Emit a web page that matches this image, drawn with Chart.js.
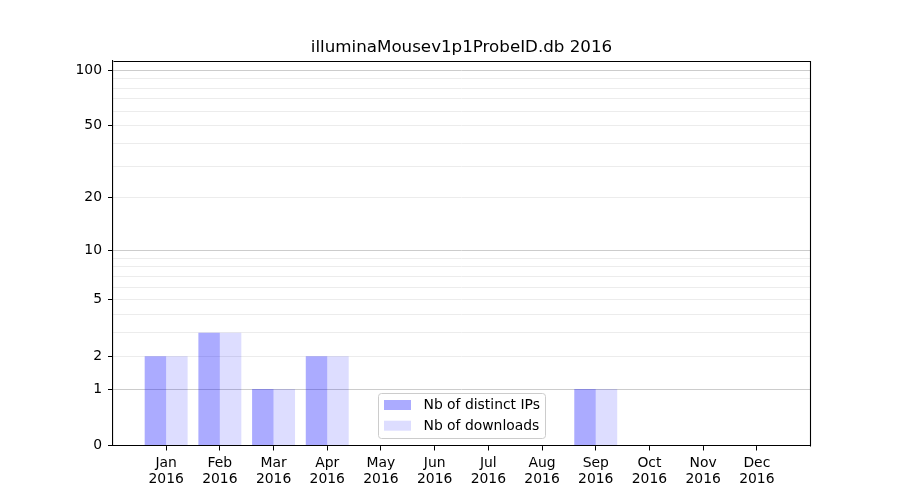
<!DOCTYPE html>
<html>
<head>
<meta charset="utf-8">
<title>illuminaMousev1p1ProbeID.db 2016</title>
<script src="https://cdn.jsdelivr.net/npm/chart.js@4.4.1/dist/chart.umd.min.js"></script>
<style>
  html, body { margin: 0; padding: 0; background: #fff; }
  #wrap { width: 900px; height: 500px; }
</style>
</head>
<body>
<div id="wrap"><canvas id="downloadsChart"></canvas></div>
<script>
// data
const chartTitle = 'illuminaMousev1p1ProbeID.db 2016';
const monthLabels = ['Jan', 'Feb', 'Mar', 'Apr', 'May', 'Jun',
    'Jul', 'Aug', 'Sep', 'Oct', 'Nov', 'Dec'];
const yearLabel = '2016';
const distinctIPs = [2, 3, 1, 2, 0, 0, 0, 0, 1, 0, 0, 0];
const downloads = [2, 3, 1, 2, 0, 0, 0, 0, 1, 0, 0, 0];

const yLabelledTicks = [0, 1, 2, 5, 10, 20, 50, 100];
const yMinorTicks = [3, 4, 6, 7, 8, 9, 30, 40, 60, 70, 80, 90];
const yMajorGrid = [1, 10, 100];

const FONT = '"DejaVu Sans", "Liberation Sans", sans-serif';

// y axis drawn as log10(1 + v), like the symlog-ish axis in the picture
class Log1pScale extends Chart.LinearScale {
    static id = 'log1p';
    static defaults = Chart.LinearScale.defaults;

    buildTicks() {
        return [...yLabelledTicks, ...yMinorTicks]
            .sort((a, b) => a - b)
            .map(v => ({ value: v }));
    }
    getPixelForValue(value) {
        const a = Math.log10(1 + this.min);
        const b = Math.log10(1 + this.max);
        return this.getPixelForDecimal((Math.log10(1 + value) - a) / (b - a));
    }
    getValueForPixel(pixel) {
        const a = Math.log10(1 + this.min);
        const b = Math.log10(1 + this.max);
        return Math.pow(10, a + this.getDecimalForPixel(pixel) * (b - a)) - 1;
    }
}
Chart.register(Log1pScale);

// top and right spines
const frame = {
    id: 'frame',
    afterDraw(chart) {
        const { ctx, chartArea: a } = chart;
        ctx.save();
        ctx.strokeStyle = '#000';
        ctx.lineWidth = 1.1;
        ctx.beginPath();
        ctx.moveTo(Math.round(a.left) + 0.5, Math.round(a.top) + 0.5);
        ctx.lineTo(Math.round(a.right) + 0.5, Math.round(a.top) + 0.5);
        ctx.lineTo(Math.round(a.right) + 0.5, Math.round(a.bottom) + 0.5);
        ctx.stroke();
        ctx.restore();
    }
};

// legend box inside the plot, lower centre
const boxLegend = {
    id: 'boxLegend',
    afterDraw(chart) {
        const { ctx, chartArea: a } = chart;
        const sets = chart.data.datasets;
        ctx.save();
        ctx.font = '13.9px ' + FONT;
        const textW = Math.max(...sets.map(d => ctx.measureText(d.label).width));
        const pad = 6, sw = 27, gap = 12, rowH = 20.7;
        const w = Math.round(pad + sw + gap + textW + pad);
        const h = 45;
        const x = Math.round((a.left + a.right) / 2 - w / 2) + 0.5;
        const y = Math.round(a.bottom - 8 - h) + 0.5;

        ctx.beginPath();
        ctx.roundRect(x, y, w, h, 3);
        ctx.fillStyle = 'rgba(255,255,255,0.8)';
        ctx.fill();
        ctx.strokeStyle = '#cccccc';
        ctx.lineWidth = 1;
        ctx.stroke();

        sets.forEach((d, i) => {
            const cy = y + 11.5 + i * rowH;
            ctx.fillStyle = d.backgroundColor;
            ctx.fillRect(x + pad - 0.5, cy - 5, sw, 10);
            ctx.fillStyle = '#000';
            ctx.textBaseline = 'middle';
            ctx.textAlign = 'left';
            ctx.fillText(d.label, x + pad + sw + gap, cy + 0.5);
        });
        ctx.restore();
    }
};

const toPoints = arr => arr.map((v, i) => ({ x: i, y: v }));

new Chart(document.getElementById('downloadsChart'), {
    type: 'bar',
    data: {
        datasets: [
            {
                label: 'Nb of distinct IPs',
                data: toPoints(distinctIPs),
                backgroundColor: 'rgba(0, 0, 255, 0.33)',
                borderWidth: 0
            },
            {
                label: 'Nb of downloads',
                data: toPoints(downloads),
                backgroundColor: 'rgba(0, 0, 255, 0.133)',
                borderWidth: 0
            }
        ]
    },
    options: {
        responsive: true,
        maintainAspectRatio: false,
        animation: false,
        layout: { padding: { left: 0, right: 90, top: 0, bottom: 0 } },
        datasets: {
            bar: { categoryPercentage: 0.8, barPercentage: 1.0 }
        },
        plugins: {
            legend: { display: false },
            tooltip: { enabled: false },
            title: {
                display: true,
                text: chartTitle,
                fullSize: false,
                color: '#000',
                font: { family: FONT, size: 16.7, weight: 'normal' },
                padding: { top: 38, bottom: 2.5 }
            }
        },
        scales: {
            x: {
                type: 'linear',
                offset: false,
                min: -0.99,
                max: 11.99,
                afterBuildTicks: scale => {
                    scale.ticks = monthLabels.map((_, i) => ({ value: i }));
                },
                afterFit: scale => { scale.height = 54.5; },
                ticks: {
                    autoSkip: false,
                    maxRotation: 0,
                    padding: 5,
                    color: '#000',
                    font: { family: FONT, size: 13.9, lineHeight: 1.13 },
                    callback: value => [monthLabels[value], yearLabel]
                },
                grid: {
                    offset: false,
                    drawOnChartArea: false,
                    tickLength: 5,
                    tickColor: '#000'
                },
                border: { color: '#000', width: 1.1 }
            },
            y: {
                type: 'log1p',
                min: 0,
                max: 112.6,
                afterFit: scale => { scale.width = 113; },
                ticks: {
                    autoSkip: false,
                    padding: 6,
                    color: '#000',
                    font: { family: FONT, size: 13.9 },
                    callback: value => yLabelledTicks.includes(value) ? String(value) : ''
                },
                grid: {
                    tickLength: 5,
                    color: ctx => {
                        const v = ctx.tick ? ctx.tick.value : null;
                        if (v === 0) return 'rgba(0,0,0,0)';
                        return yMajorGrid.includes(v) ? '#cccccc' : '#ececec';
                    },
                    tickColor: ctx => {
                        const v = ctx.tick ? ctx.tick.value : null;
                        return yLabelledTicks.includes(v) ? '#000' : 'rgba(0,0,0,0)';
                    }
                },
                border: { color: '#000', width: 1.1 }
            }
        }
    },
    plugins: [frame, boxLegend]
});
</script>
</body>
</html>
